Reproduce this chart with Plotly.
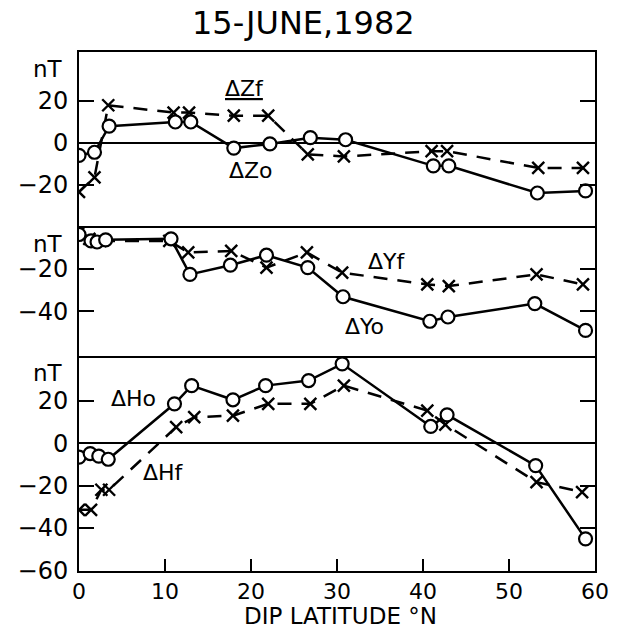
import plotly.graph_objects as go
from plotly.subplots import make_subplots

# ---- data ----
lat_Zo = [0, 1.8, 3.5, 11.2, 13, 18, 22.2, 26.9, 31, 41.2, 43, 53.3, 58.9]
dZo = [-6, -4.5, 8, 10, 10, -2.5, -0.5, 2.5, 1.5, -11, -11, -24, -23]
lat_Zf = [0, 1.8, 3.4, 11, 12.8, 18, 22, 26.6, 30.8, 41, 42.8, 53.4, 58.6]
dZf = [-23.5, -16.5, 18, 14.5, 14.5, 13, 13, -5.5, -6.5, -4, -4, -12, -12]

lat_Yo = [0, 1.4, 2.1, 3.1, 10.7, 12.9, 17.6, 21.8, 26.6, 30.7, 40.8, 42.9, 53, 58.9]
dYo = [-4, -7, -7.5, -6.5, -6, -22.7, -18.4, -13.7, -19.5, -33.2, -44.7, -42.7, -36.4, -49]
lat_Yf = [0, 1.2, 2.5, 10.5, 12.7, 17.7, 21.8, 26.5, 30.6, 40.5, 43, 53.2, 58.6]
dYf = [-3, -6, -7, -7, -12.4, -11.7, -19.5, -12.4, -21.9, -27.4, -28.2, -22.7, -27.4]

lat_Ho = [0, 1.3, 2.3, 3.4, 11.1, 13.1, 17.9, 21.7, 26.7, 30.6, 40.9, 42.8, 53.1, 58.9]
dHo = [-6.6, -4.9, -6.1, -7.6, 18.6, 27.2, 20.5, 27.2, 29.6, 37.5, 7.9, 13.4, -10.6, -45.2]
lat_Hf = [0, 1.4, 2.6, 3.5, 11.3, 13.4, 17.9, 22, 26.9, 30.8, 40.5, 42.6, 53.2, 58.5]
dHf = [-31.5, -31.5, -22, -22, 7.6, 12.3, 13, 18.6, 18.6, 27.2, 15.4, 8.8, -18.4, -23.1]

x_ticks = [0, 10, 20, 30, 40, 50, 60]
y1_ticks = [20, 0, -20]
y2_ticks = [-20, -40]
y3_ticks = [20, 0, -20, -40, -60]

FONT = "DejaVu Sans"
BLK = "black"

fig = make_subplots(rows=3, cols=1, shared_xaxes=True, vertical_spacing=0,
                    row_heights=[174, 130, 215])

def obs(x, y, row):
    fig.add_trace(go.Scatter(x=x, y=y, mode="lines+markers",
                             line=dict(color=BLK, width=2.5),
                             marker=dict(symbol="circle", size=13, color="white",
                                         line=dict(color=BLK, width=2.2)),
                             showlegend=False), row=row, col=1)

def fit(x, y, row):
    fig.add_trace(go.Scatter(x=x, y=y, mode="lines+markers",
                             line=dict(color=BLK, width=2.5, dash="14px,10px"),
                             marker=dict(symbol="x-thin", size=12, color=BLK,
                                         line=dict(color=BLK, width=2.4)),
                             showlegend=False), row=row, col=1)

fit(lat_Zf, dZf, 1)
obs(lat_Zo, dZo, 1)
fit(lat_Yf, dYf, 2)
obs(lat_Yo, dYo, 2)
fit(lat_Hf, dHf, 3)
obs(lat_Ho, dHo, 3)

tickfont = dict(family=FONT, size=24, color=BLK)

for r in (1, 2, 3):
    fig.update_xaxes(row=r, col=1, range=[0, 60], showline=True, linecolor=BLK,
                     linewidth=2, mirror=(r == 1), showgrid=False, zeroline=False,
                     tickvals=x_ticks, ticks="inside" if r == 3 else "",
                     ticklen=12, tickwidth=2, tickcolor=BLK,
                     showticklabels=(r == 3), tickfont=dict(family=FONT, size=22, color=BLK),
                     ticklabeloverflow="allow", ticklabelstandoff=0)

yranges = {1: [-39.8, 43.5], 2: [-61, 0], 3: [-60.4, 41.2]}
yticks = {1: y1_ticks, 2: y2_ticks, 3: y3_ticks}
for r in (1, 2, 3):
    fig.update_yaxes(row=r, col=1, range=yranges[r], tickvals=yticks[r],
                     showline=True, linecolor=BLK, linewidth=2, mirror="ticks",
                     ticks="inside", ticklen=15, tickwidth=2, tickcolor=BLK,
                     showgrid=False, zeroline=(r != 2), zerolinecolor=BLK,
                     zerolinewidth=2, tickfont=tickfont, ticklabelstandoff=4,
                     ticklabeloverflow="allow")

ann = [
    dict(text="15-JUNE,1982", x=0.4355, y=1.056, xref="paper", yref="paper",
         font=dict(family=FONT, size=32, color=BLK)),
    dict(text="DIP LATITUDE °N", x=0.507, y=-0.1156, xref="paper", yref="paper",
         yanchor="bottom", font=dict(family=FONT, size=23, color=BLK)),
    dict(text="nT", x=-0.0607, y=0.967, xref="paper", yref="paper",
         font=dict(family=FONT, size=23, color=BLK)),
    dict(text="nT", x=-0.0607, y=0.63, xref="paper", yref="paper",
         font=dict(family=FONT, size=23, color=BLK)),
    dict(text="nT", x=-0.0607, y=0.382, xref="paper", yref="paper",
         font=dict(family=FONT, size=23, color=BLK)),
    dict(text="<u>ΔZf</u>", x=19.3, y=26, xref="x", yref="y",
         font=dict(family=FONT, size=22, color=BLK)),
    dict(text="ΔZo", x=20, y=-13, xref="x", yref="y",
         font=dict(family=FONT, size=22, color=BLK)),
    dict(text="ΔYf", x=35.8, y=-16.5, xref="x2", yref="y2",
         font=dict(family=FONT, size=22, color=BLK)),
    dict(text="ΔYo", x=33.2, y=-47, xref="x2", yref="y2",
         font=dict(family=FONT, size=22, color=BLK)),
    dict(text="ΔHo", x=6.3, y=21, xref="x3", yref="y3",
         font=dict(family=FONT, size=22, color=BLK)),
    dict(text="ΔHf", x=9.8, y=-14, xref="x3", yref="y3",
         font=dict(family=FONT, size=22, color=BLK)),
]
for a in ann:
    a.setdefault("yanchor", "middle")
    a.update(showarrow=False, xanchor="center")

fig.update_layout(width=621, height=631, paper_bgcolor="white", plot_bgcolor="white",
                  margin=dict(l=79, r=15, t=52, b=60), annotations=ann,
                  showlegend=False)

fig.write_html("out.html", config={"displayModeBar": False},
               post_script="document.body.style.margin='0';"
                           "document.body.style.overflow='hidden';")
